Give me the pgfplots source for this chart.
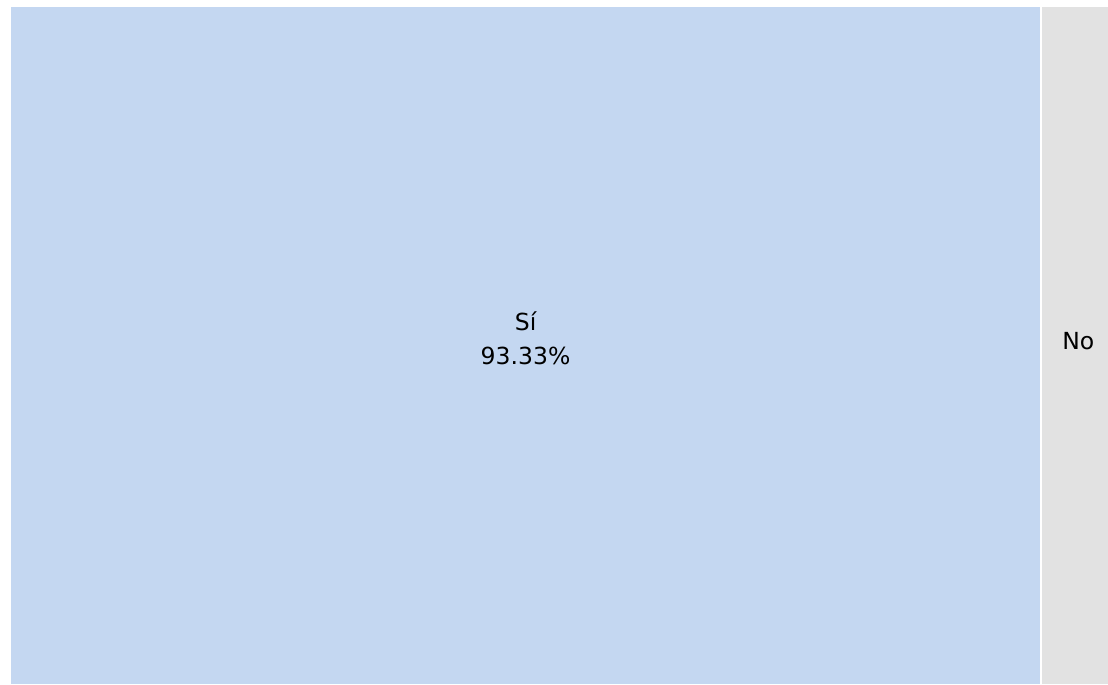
\documentclass[border=0pt]{standalone}
\usepackage{pgfplots}
\pgfplotsset{compat=1.18}
\usepackage{fontspec}
\setmainfont{DejaVu Sans}
\definecolor{siblue}{RGB}{196,215,241}
\definecolor{nogray}{RGB}{226,226,226}
\begin{document}
\begin{tikzpicture}
\begin{axis}[
  scale only axis, width=1108pt, height=684pt,
  xmin=-0.998, xmax=99.50, ymin=0, ymax=684,
  hide axis, clip=true,
]
\fill[white] (rel axis cs:0,0) rectangle (rel axis cs:1,1);
% Sí: 93.33 %
\addplot[fill=siblue, draw=none] coordinates {(0,0) (93.33,0) (93.33,677) (0,677)} --cycle;
% No: 6.67 %
\addplot[fill=nogray, draw=none] coordinates {(93.51,0) (100.18,0) (100.18,677) (93.51,677)} --cycle;
\node[align=center, font=\fontsize{23.5}{34}\selectfont, text=black] at (axis cs:46.67,346) {Sí\\93.33\%};
\node[font=\fontsize{23.5}{34}\selectfont, text=black] at (axis cs:96.8,343) {No};
\end{axis}
\end{tikzpicture}
\end{document}
